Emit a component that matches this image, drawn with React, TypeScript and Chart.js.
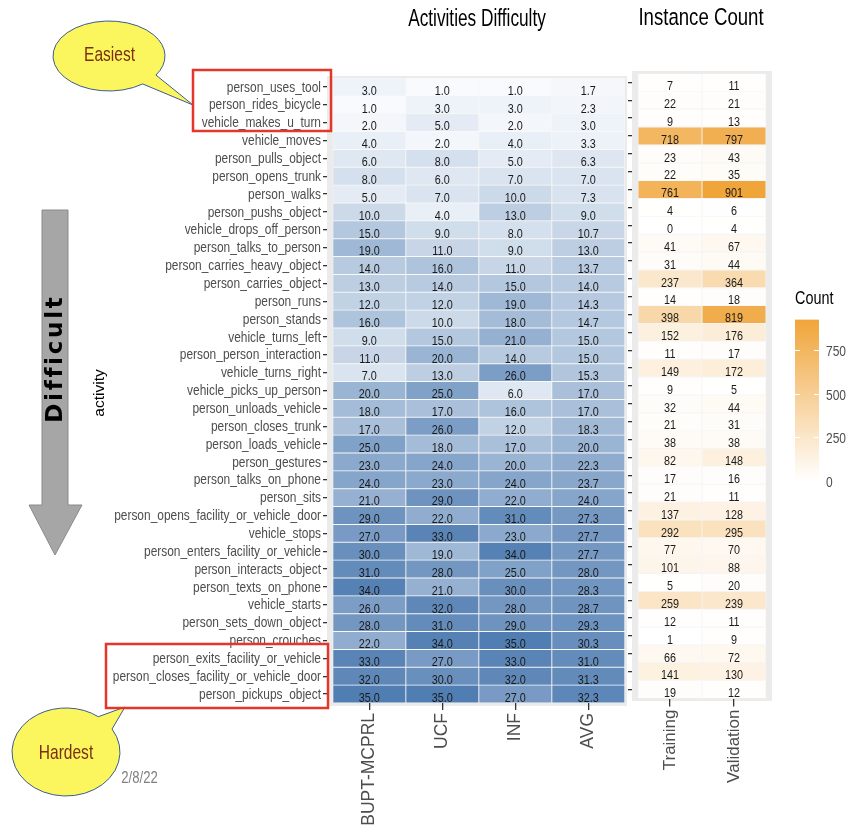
import React, { useEffect, useRef } from "react";
import { Chart, registerables } from "chart.js";

Chart.register(...registerables);

// ---------------- DATA ----------------
const activities = [
  "person_uses_tool",
  "person_rides_bicycle",
  "vehicle_makes_u_turn",
  "vehicle_moves",
  "person_pulls_object",
  "person_opens_trunk",
  "person_walks",
  "person_pushs_object",
  "vehicle_drops_off_person",
  "person_talks_to_person",
  "person_carries_heavy_object",
  "person_carries_object",
  "person_runs",
  "person_stands",
  "vehicle_turns_left",
  "person_person_interaction",
  "vehicle_turns_right",
  "vehicle_picks_up_person",
  "person_unloads_vehicle",
  "person_closes_trunk",
  "person_loads_vehicle",
  "person_gestures",
  "person_talks_on_phone",
  "person_sits",
  "person_opens_facility_or_vehicle_door",
  "vehicle_stops",
  "person_enters_facility_or_vehicle",
  "person_interacts_object",
  "person_texts_on_phone",
  "vehicle_starts",
  "person_sets_down_object",
  "person_crouches",
  "person_exits_facility_or_vehicle",
  "person_closes_facility_or_vehicle_door",
  "person_pickups_object",
];

const columns = ["BUPT-MCPRL", "UCF", "INF", "AVG"];
const bupt = [3, 1, 2, 4, 6, 8, 5, 10, 15, 19, 14, 13, 12, 16, 9, 11, 7, 20, 18, 17, 25, 23, 24, 21, 29, 27, 30, 31, 34, 26, 28, 22, 33, 32, 35];
const ucf = [1, 3, 5, 2, 8, 6, 7, 4, 9, 11, 16, 14, 12, 10, 15, 20, 13, 25, 17, 26, 18, 24, 23, 29, 22, 33, 19, 28, 21, 32, 31, 34, 27, 30, 35];
const inf = [1, 3, 2, 4, 5, 7, 10, 13, 8, 9, 11, 15, 19, 18, 21, 14, 26, 6, 16, 12, 17, 20, 24, 22, 31, 23, 34, 25, 30, 28, 29, 35, 33, 32, 27];
const avg = [1.7, 2.3, 3.0, 3.3, 6.3, 7.0, 7.3, 9.0, 10.7, 13.0, 13.7, 14.0, 14.3, 14.7, 15.0, 15.0, 15.3, 17.0, 17.0, 18.3, 20.0, 22.3, 23.7, 24.0, 27.3, 27.7, 27.7, 28.0, 28.3, 28.7, 29.3, 30.3, 31.0, 31.3, 32.3];

const countColumns = ["Training", "Validation"];
const training = [7, 22, 9, 718, 23, 22, 761, 4, 0, 41, 31, 237, 14, 398, 152, 11, 149, 9, 32, 21, 38, 82, 17, 21, 137, 292, 77, 101, 5, 259, 12, 1, 66, 141, 19];
const validation = [11, 21, 13, 797, 43, 35, 901, 6, 4, 67, 44, 364, 18, 819, 176, 17, 172, 5, 44, 31, 38, 148, 16, 11, 128, 295, 70, 88, 20, 239, 11, 9, 72, 130, 12];

const legendTicks = [0, 250, 500, 750];

// ---------------- STYLE ----------------
const W = 851;
const H = 831;
const SANS = "'Liberation Sans', Arial, sans-serif";
const AXIS_TEXT = "#4D4D4D";
const NARROW_K = 0.82;

const HEAT_LOW = [248, 250, 253];
const HEAT_HIGH = [80, 125, 178];
const COUNT_LOW = [255, 255, 255];
const COUNT_HIGH = [240, 165, 58];

const heatValues = [bupt, ucf, inf, avg];
const countValues = [training, validation];
const allHeat = heatValues.flat();
const heatMin = Math.min(...allHeat);
const heatMax = Math.max(...allHeat);
const countMax = Math.max(...countValues.flat());

function mix(a: number[], b: number[], t: number) {
  const tt = Math.max(0, Math.min(1, t));
  const r = a.map((v, i) => Math.round(v + (b[i] - v) * tt));
  return `rgb(${r[0]},${r[1]},${r[2]})`;
}
const heatColor = (v: number) => mix(HEAT_LOW, HEAT_HIGH, (v - heatMin) / (heatMax - heatMin));
const countColor = (v: number) => mix(COUNT_LOW, COUNT_HIGH, v / countMax);

// text drawn in a narrow (condensed) form by squeezing Liberation Sans horizontally
function drawNarrow(
  ctx: CanvasRenderingContext2D,
  s: string,
  x: number,
  y: number,
  size: number,
  color: string,
  align: CanvasTextAlign = "center",
  rotate = 0,
  k = NARROW_K,
  weight = ""
) {
  ctx.save();
  ctx.translate(x, y);
  if (rotate) ctx.rotate(rotate);
  ctx.font = `${weight} ${size}px ${SANS}`.trim();
  ctx.fillStyle = color;
  ctx.textAlign = align;
  ctx.textBaseline = "middle";
  const w = ctx.measureText(s).width;
  ctx.fillText(s, 0, 0, w * k);
  ctx.restore();
}

function bubble(
  ctx: CanvasRenderingContext2D,
  cx: number,
  cy: number,
  rx: number,
  ry: number,
  a1: number,
  a2: number,
  tip: [number, number]
) {
  ctx.save();
  ctx.beginPath();
  ctx.moveTo(tip[0], tip[1]);
  ctx.ellipse(cx, cy, rx, ry, 0, a1, a2, false);
  ctx.closePath();
  ctx.fillStyle = "#FBF65E";
  ctx.fill();
  ctx.strokeStyle = "#3D5A8E";
  ctx.lineWidth = 1;
  ctx.stroke();
  ctx.restore();
}

const deg = (d: number) => (d * Math.PI) / 180;

const heatPlugin = {
  id: "heatDecor",
  beforeDraw(chart: any) {
    const { ctx, chartArea: a } = chart;
    ctx.save();
    ctx.fillStyle = "#EBEBEB";
    ctx.fillRect(a.left, a.top - 2, a.right - a.left, a.bottom - a.top + 5);
    ctx.restore();
  },
  afterDatasetsDraw(chart: any) {
    const { ctx } = chart;
    heatValues.forEach((vals, j) => {
      const meta = chart.getDatasetMeta(j);
      meta.data.forEach((el: any, i: number) => {
        const p = el.getCenterPoint();
        drawNarrow(ctx, vals[i].toFixed(1), p.x, p.y + 4, 13.5, "#1A1A1A", "center", 0, 0.8);
      });
    });
  },
  afterDraw(chart: any) {
    const { ctx, chartArea: a } = chart;
    const ys = chart.scales.y;
    // y-axis category labels, positioned by the category scale
    ys.ticks.forEach((t: any, i: number) => {
      const y = ys.getPixelForTick(i);
      drawNarrow(ctx, String(ys.getLabelForValue(t.value)), ys.right - 6, y + 0.5, 15, AXIS_TEXT, "right", 0, 0.795);
    });

    // title
    drawNarrow(ctx, "Activities Difficulty", (a.left + a.right) / 2, 20, 23, "#000", "center", 0, 0.75);
    // y axis title
    drawNarrow(ctx, "activity", 100, 393, 15.5, "#000", "center", -Math.PI / 2, 1);

    // Easiest bubble
    bubble(ctx, 109, 56, 56, 35, deg(53), deg(33 + 360), [193, 105]);
    drawNarrow(ctx, "Easiest", 109.5, 55, 21, "#7A2E12", "center", 0, 0.74);
    // Hardest bubble
    bubble(ctx, 66, 752, 54, 44, deg(-31.5), deg(-53.3 + 360), [125, 707]);
    drawNarrow(ctx, "Hardest", 66, 753, 21, "#7A2E12", "center", 0, 0.74);
    // date
    drawNarrow(ctx, "2/8/22", 139.5, 779, 16, "#808080", "center", 0, 0.82);

    // red boxes
    ctx.save();
    ctx.strokeStyle = "#E5362B";
    ctx.lineWidth = 2.5;
    ctx.strokeRect(193, 70, 138, 61);
    ctx.strokeRect(106, 644, 222, 64);
    ctx.restore();

    // down arrow
    ctx.save();
    ctx.beginPath();
    ctx.moveTo(42, 210);
    ctx.lineTo(68, 210);
    ctx.lineTo(68, 505);
    ctx.lineTo(82, 505);
    ctx.lineTo(55, 555);
    ctx.lineTo(29, 505);
    ctx.lineTo(42, 505);
    ctx.closePath();
    ctx.fillStyle = "#A6A6A6";
    ctx.fill();
    ctx.strokeStyle = "#8A8A8A";
    ctx.lineWidth = 1;
    ctx.stroke();
    ctx.restore();

    // "Difficult"
    ctx.save();
    ctx.translate(56, 360);
    ctx.rotate(-Math.PI / 2);
    ctx.font = `bold 23px 'DejaVu Sans', 'Open Sans', sans-serif`;
    const w = ctx.measureText("Difficult").width;
    const sp = Math.max(0, (126 - w) / 9);
    (ctx as any).letterSpacing = `${sp}px`;
    ctx.fillStyle = "#000";
    ctx.textAlign = "center";
    ctx.textBaseline = "middle";
    ctx.fillText("Difficult", sp / 2, 0);
    ctx.restore();
  },
};

const countPlugin = {
  id: "countDecor",
  beforeDraw(chart: any) {
    const { ctx, chartArea: a } = chart;
    ctx.save();
    ctx.fillStyle = "#EBEBEB";
    ctx.fillRect(a.left, a.top - 2.5, a.right - a.left, a.bottom - a.top + 5);
    ctx.restore();
  },
  afterDatasetsDraw(chart: any) {
    const { ctx } = chart;
    countValues.forEach((vals, j) => {
      const meta = chart.getDatasetMeta(j);
      meta.data.forEach((el: any, i: number) => {
        const p = el.getCenterPoint();
        drawNarrow(ctx, String(vals[i]), p.x, p.y + 4, 13.5, "#1A1A1A", "center", 0, 0.8);
      });
    });
  },
  afterDraw(chart: any) {
    const { ctx } = chart;
    drawNarrow(ctx, "Instance Count", 701, 18, 24.5, "#000", "center", 0, 0.76);

    // legend
    drawNarrow(ctx, "Count", 795, 299, 18, "#000", "left", 0, 0.8);
    const x0 = 795;
    const bw = 24;
    const y0 = 481;
    const k = (481 - 350) / 750;
    const yTop = y0 - countMax * k - 4;
    const grad = ctx.createLinearGradient(0, y0, 0, yTop);
    grad.addColorStop(0, countColor(0));
    grad.addColorStop(1, countColor(countMax));
    ctx.save();
    ctx.fillStyle = grad;
    ctx.fillRect(x0, yTop, bw, y0 - yTop);
    ctx.strokeStyle = "#FFFFFF";
    ctx.lineWidth = 1;
    legendTicks.forEach((t) => {
      const y = Math.round(y0 - t * k) + 0.5;
      ctx.beginPath();
      ctx.moveTo(x0, y);
      ctx.lineTo(x0 + 5, y);
      ctx.moveTo(x0 + bw - 5, y);
      ctx.lineTo(x0 + bw, y);
      ctx.stroke();
      drawNarrow(ctx, String(t), 826, y + 1, 15, AXIS_TEXT, "left", 0, 0.8);
    });
    ctx.restore();
  },
};

export default function App() {
  const heatRef = useRef<HTMLCanvasElement>(null);
  const countRef = useRef<HTMLCanvasElement>(null);

  useEffect(() => {
    const c1 = heatRef.current!;
    const c2 = countRef.current!;

    const chart1 = new Chart(c1, {
      type: "bar",
      data: {
        labels: activities,
        datasets: heatValues.map((vals, j) => ({
          label: columns[j],
          data: vals.map(() => [j - 0.5, j + 0.5]) as any,
          backgroundColor: vals.map(heatColor),
          borderColor: "rgba(255,255,255,0.55)",
          borderWidth: 0.8,
          borderSkipped: false,
          grouped: false,
          categoryPercentage: 1,
          barPercentage: 1,
        })),
      },
      options: {
        indexAxis: "y",
        responsive: false,
        animation: false,
        devicePixelRatio: 1,
        layout: { padding: { top: 78, right: W - 627, left: 0, bottom: 0 } },
        plugins: {
          legend: { display: false },
          tooltip: { enabled: false },
          title: { display: false },
        },
        scales: {
          y: {
            type: "category",
            position: "left",
            offset: true,
            grid: {
              display: true,
              drawOnChartArea: false,
              drawTicks: true,
              tickLength: 4,
              offset: false,
              color: "#333333",
              lineWidth: 1.3,
            },
            border: { display: false },
            ticks: { display: false, autoSkip: false },
            afterFit: (s: any) => {
              s.width = 327;
            },
          },
          x: {
            type: "linear",
            position: "bottom",
            min: -0.58,
            max: 3.53,
            afterBuildTicks: (s: any) => {
              s.ticks = columns.map((_, i) => ({ value: i }));
            },
            grid: {
              display: true,
              drawOnChartArea: false,
              drawTicks: true,
              tickLength: 7,
              color: "#333333",
              lineWidth: 1.3,
            },
            border: { display: false },
            ticks: {
              minRotation: 90,
              maxRotation: 90,
              color: AXIS_TEXT,
              padding: 3,
              font: { family: SANS, size: 17.5 },
              callback: (v: any) => columns[Number(v)] ?? "",
            },
            afterFit: (s: any) => {
              s.height = H - 703;
            },
          },
        },
      } as any,
      plugins: [heatPlugin],
    });

    const chart2 = new Chart(c2, {
      type: "bar",
      data: {
        labels: activities,
        datasets: countValues.map((vals, j) => ({
          label: countColumns[j],
          data: vals.map(() => [j - 0.5, j + 0.5]) as any,
          backgroundColor: vals.map(countColor),
          borderColor: "rgba(255,255,255,0.45)",
          borderWidth: 0.8,
          borderSkipped: false,
          grouped: false,
          categoryPercentage: 1,
          barPercentage: 1,
        })),
      },
      options: {
        indexAxis: "y",
        responsive: false,
        animation: false,
        devicePixelRatio: 1,
        layout: { padding: { top: 73.5, right: W - 772, left: 0, bottom: 0 } },
        plugins: {
          legend: { display: false },
          tooltip: { enabled: false },
          title: { display: false },
        },
        scales: {
          y: {
            type: "category",
            position: "left",
            offset: true,
            grid: {
              display: true,
              drawOnChartArea: false,
              drawTicks: true,
              tickLength: 4,
              offset: false,
              color: "#333333",
              lineWidth: 1.3,
            },
            border: { display: false },
            ticks: { display: false, autoSkip: false },
            afterFit: (s: any) => {
              s.width = 632;
            },
          },
          x: {
            type: "linear",
            position: "bottom",
            min: -0.594,
            max: 1.594,
            afterBuildTicks: (s: any) => {
              s.ticks = countColumns.map((_, i) => ({ value: i }));
            },
            grid: {
              display: true,
              drawOnChartArea: false,
              drawTicks: true,
              tickLength: 8,
              color: "#333333",
              lineWidth: 1.3,
            },
            border: { display: false },
            ticks: {
              minRotation: 90,
              maxRotation: 90,
              color: AXIS_TEXT,
              padding: 3,
              font: { family: SANS, size: 17 },
              callback: (v: any) => countColumns[Number(v)] ?? "",
            },
            afterFit: (s: any) => {
              s.height = H - 698.5;
            },
          },
        },
      } as any,
      plugins: [countPlugin],
    });

    return () => {
      chart1.destroy();
      chart2.destroy();
    };
  }, []);

  return (
    <div
      style={{
        position: "fixed",
        left: 0,
        top: 0,
        width: W,
        height: H,
        background: "#FFFFFF",
        overflow: "hidden",
      }}
    >
      <canvas ref={heatRef} width={W} height={H} style={{ position: "absolute", left: 0, top: 0 }} />
      <canvas ref={countRef} width={W} height={H} style={{ position: "absolute", left: 0, top: 0 }} />
    </div>
  );
}
